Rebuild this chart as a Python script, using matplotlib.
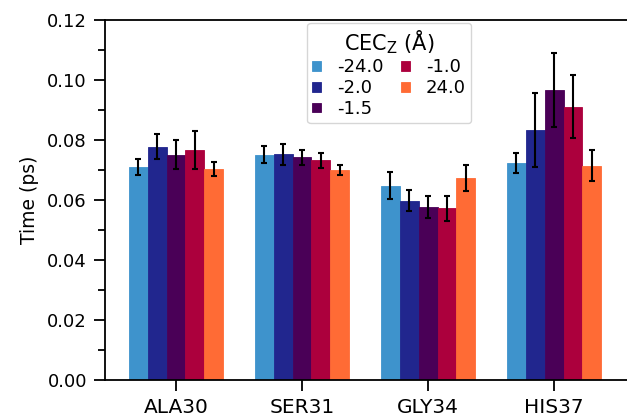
import numpy as np
import matplotlib
matplotlib.use('Agg')
import matplotlib.pyplot as plt
from matplotlib.ticker import MultipleLocator

residues = ['ALA30', 'SER31', 'GLY34', 'HIS37']
cec_labels = ['-24.0', '-2.0', '-1.5', '-1.0', '24.0']
colors = ['#3e93cc', '#21268e', '#4a0057', '#ac003d', '#ff6b35']

# mean times (ps), one list per CEC_z value, ordered by residue
t_m24 = [0.0711, 0.0751, 0.0648, 0.0722]
t_m2 = [0.0778, 0.0752, 0.0598, 0.0834]
t_m15 = [0.0751, 0.0743, 0.0576, 0.0967]
t_m1 = [0.0766, 0.0732, 0.0572, 0.0911]
t_p24 = [0.0703, 0.0700, 0.0674, 0.0714]

# error bars
e_m24 = [0.0027, 0.0028, 0.0044, 0.0033]
e_m2 = [0.0043, 0.0036, 0.0036, 0.0123]
e_m15 = [0.0049, 0.0025, 0.0036, 0.0123]
e_m1 = [0.0064, 0.0026, 0.0041, 0.0106]
e_p24 = [0.0023, 0.0017, 0.0044, 0.0051]

means = [t_m24, t_m2, t_m15, t_m1, t_p24]
errs = [e_m24, e_m2, e_m15, e_m1, e_p24]

fig = plt.figure(figsize=(6.27, 4.19), dpi=100)
ax = fig.add_axes([0.1675, 0.0931, 0.8375, 0.8592])

x = np.arange(len(residues))
w = 0.15
for i in range(len(cec_labels)):
    ax.bar(x + (i - 2) * w, means[i], w, yerr=errs[i], color=colors[i],
           edgecolor=colors[i], linewidth=0.6, label=cec_labels[i],
           error_kw=dict(ecolor='black', elinewidth=1.5, capsize=2, capthick=1.5))

ax.set_xlim(-0.563, 3.603)
ax.set_ylim(0, 0.12)
ax.set_xticks(x)
ax.set_xticklabels(residues, fontsize=14.5)
ax.yaxis.set_major_locator(MultipleLocator(0.02))
ax.yaxis.set_minor_locator(MultipleLocator(0.01))
ax.tick_params(axis='y', labelsize=13)
ax.tick_params(which='major', length=8, width=1.3, pad=5)
ax.tick_params(which='minor', length=5, width=1.3)
ax.set_ylabel('Time (ps)', fontsize=13.5, labelpad=6)
for s in ax.spines.values():
    s.set_linewidth(1.3)

leg = ax.legend(title='CEC$_\\mathrm{Z}$ (Å)', ncol=2, fontsize=13, title_fontsize=15,
                loc='upper center', bbox_to_anchor=(0.541, 1.0), borderaxespad=0.15,
                handlelength=0.45, handleheight=0.45, columnspacing=1.0,
                handletextpad=0.9, labelspacing=0.15, borderpad=0.3)

fig.savefig('out.png', dpi=100)
